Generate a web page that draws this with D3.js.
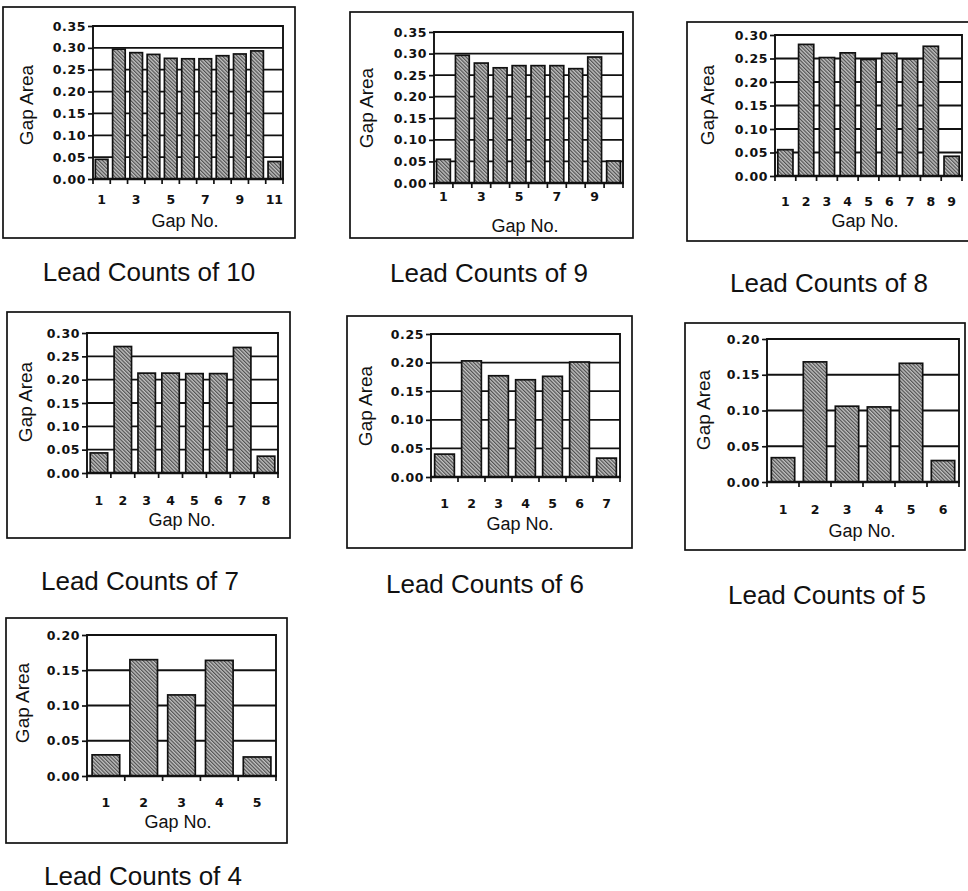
<!DOCTYPE html>
<html>
<head>
<meta charset="utf-8">
<script src="https://cdn.jsdelivr.net/npm/d3@7"></script>
<style>
  html, body { margin: 0; padding: 0; background: #fff; }
  svg { display: block; }
</style>
</head>
<body>
<svg id="chart" width="968" height="891"></svg>
<script>
// Gap area per gap for each lead count
const leadCounts = [10, 9, 8, 7, 6, 5, 4];
const gapArea10 = [0.045, 0.297, 0.289, 0.285, 0.276, 0.275, 0.275, 0.282, 0.286, 0.293, 0.040];
const gapArea9  = [0.055, 0.296, 0.278, 0.267, 0.272, 0.272, 0.272, 0.265, 0.292, 0.051];
const gapArea8  = [0.056, 0.280, 0.252, 0.262, 0.248, 0.261, 0.249, 0.276, 0.042];
const gapArea7  = [0.043, 0.271, 0.214, 0.214, 0.213, 0.213, 0.269, 0.036];
const gapArea6  = [0.040, 0.203, 0.177, 0.170, 0.176, 0.201, 0.033];
const gapArea5  = [0.034, 0.168, 0.106, 0.105, 0.166, 0.030];
const gapArea4  = [0.030, 0.165, 0.115, 0.164, 0.027];
const seriesValues = [gapArea10, gapArea9, gapArea8, gapArea7, gapArea6, gapArea5, gapArea4];

// y-axis maxima and tick labels
const yMaxima = [0.35, 0.35, 0.30, 0.30, 0.25, 0.20, 0.20];
const yTickValues = [0.00, 0.05, 0.10, 0.15, 0.20, 0.25, 0.30, 0.35];
// which gap numbers carry a label on the x axis
const xLabelEvery = [2, 2, 1, 1, 1, 1, 1];

const xAxisTitle = "Gap No.";
const yAxisTitle = "Gap Area";
const panelTitle = n => `Lead Counts of ${n}`;

// panel placement: frame box, plot rectangle, label anchors
const layout = [
  {box: [3, 7, 292, 231],   plot: [93, 26, 190, 153],  xLab: 199, xT: [185, 221], yT: [26, 105],  t: [149, 281]},
  {box: [350, 12, 283, 226], plot: [434, 32, 189, 151], xLab: 196, xT: [525, 226], yT: [366, 108], t: [489, 282]},
  {box: [687, 22, 295, 219], plot: [775, 35, 187, 141], xLab: 201, xT: [865, 221], yT: [707, 105], t: [829, 292]},
  {box: [7, 312, 283, 226],  plot: [87, 333, 191, 140], xLab: 500, xT: [182, 520], yT: [25, 402],  t: [140, 590]},
  {box: [347, 316, 285, 232], plot: [431, 334, 189, 143], xLab: 503, xT: [520, 524], yT: [365, 406], t: [485, 593]},
  {box: [685, 323, 280, 227], plot: [767, 339, 192, 143], xLab: 509, xT: [862, 531], yT: [703, 410], t: [827, 604]},
  {box: [6, 618, 281, 225],  plot: [87, 635, 189, 141], xLab: 802, xT: [178, 822], yT: [22, 703],  t: [143, 885]}
];

const svg = d3.select("#chart");

// diagonal hatch used for the bars
const defs = svg.append("defs");
const pat = defs.append("pattern")
  .attr("id", "hatch")
  .attr("patternUnits", "userSpaceOnUse")
  .attr("width", 2.6).attr("height", 2.6)
  .attr("patternTransform", "rotate(-45)");
pat.append("rect").attr("width", 2.6).attr("height", 2.6).attr("fill", "#c2c2c2");
pat.append("line").attr("x1", 0.6).attr("y1", 0).attr("x2", 0.6).attr("y2", 2.6)
  .attr("stroke", "#505050").attr("stroke-width", 1.2);

const tickFont = "'DejaVu Sans', Verdana, sans-serif";
const labelFont = "'Liberation Sans', Arial, Helvetica, sans-serif";
const ink = "#111";

seriesValues.forEach((values, p) => {
  const L = layout[p];
  const [px, py, pw, ph] = L.plot;
  const gaps = values.map((_, i) => i + 1);
  const yMax = yMaxima[p];
  const ticks = yTickValues.filter(v => v <= yMax + 1e-9);

  const g = svg.append("g");

  // outer frame
  g.append("rect")
    .attr("x", L.box[0]).attr("y", L.box[1])
    .attr("width", L.box[2]).attr("height", L.box[3])
    .attr("fill", "none").attr("stroke", ink).attr("stroke-width", 1.7);

  const x = d3.scaleBand().domain(gaps).range([px, px + pw])
    .paddingInner(0.27).paddingOuter(0.135);
  const y = d3.scaleLinear().domain([0, yMax]).range([py + ph, py]);

  // horizontal grid
  g.append("g").selectAll("line").data(ticks.filter(v => v > 0)).join("line")
    .attr("x1", px).attr("x2", px + pw)
    .attr("y1", d => y(d)).attr("y2", d => y(d))
    .attr("stroke", ink).attr("stroke-width", 1.8);

  // plot frame (left, top, right)
  g.append("path")
    .attr("d", `M${px},${py + ph}V${py}H${px + pw}V${py + ph}`)
    .attr("fill", "none").attr("stroke", ink).attr("stroke-width", 1.9);

  // bars
  g.append("g").selectAll("rect").data(values).join("rect")
    .attr("x", (d, i) => x(gaps[i]))
    .attr("y", d => y(d))
    .attr("width", x.bandwidth())
    .attr("height", d => y(0) - y(d))
    .attr("fill", "url(#hatch)")
    .attr("stroke", ink).attr("stroke-width", 1.7);

  // y axis
  const yAxis = d3.axisLeft(y).tickValues(ticks).tickFormat(d3.format(".2f"))
    .tickSize(5).tickPadding(2);
  const ya = g.append("g").attr("transform", `translate(${px},0)`).call(yAxis);
  ya.select(".domain").remove();
  ya.selectAll(".tick line").attr("stroke", ink).attr("stroke-width", 1.7);
  ya.selectAll(".tick text")
    .attr("font-family", tickFont).attr("font-size", 12.5).attr("font-weight", "bold")
    .attr("fill", ink).attr("letter-spacing", 0.6);

  // x axis line with ticks at band boundaries
  g.append("line")
    .attr("x1", px - 1).attr("x2", px + pw + 1)
    .attr("y1", py + ph).attr("y2", py + ph)
    .attr("stroke", ink).attr("stroke-width", 2.3);
  const step = x.step();
  const boundaryX = d => x(d) + x.bandwidth() + (step - x.bandwidth()) / 2;
  g.append("g").selectAll("line").data(gaps.slice(0, -1)).join("line")
    .attr("x1", boundaryX).attr("x2", boundaryX)
    .attr("y1", py + ph).attr("y2", py + ph + 5)
    .attr("stroke", ink).attr("stroke-width", 1.7);
  g.append("g").selectAll("line").data([px, px + pw]).join("line")
    .attr("x1", d => d).attr("x2", d => d)
    .attr("y1", py + ph).attr("y2", py + ph + 5)
    .attr("stroke", ink).attr("stroke-width", 1.7);

  // x tick labels
  g.append("g").selectAll("text")
    .data(gaps.filter(d => (d - 1) % xLabelEvery[p] === 0)).join("text")
    .attr("x", d => x(d) + x.bandwidth() / 2)
    .attr("y", L.xLab)
    .attr("text-anchor", "middle").attr("dominant-baseline", "central")
    .attr("font-family", tickFont).attr("font-size", 12.5).attr("font-weight", "bold")
    .attr("fill", ink)
    .text(d => d);

  // axis titles
  g.append("text")
    .attr("x", L.xT[0]).attr("y", L.xT[1])
    .attr("text-anchor", "middle").attr("dominant-baseline", "central")
    .attr("font-family", labelFont).attr("font-size", 18).attr("fill", ink)
    .text(xAxisTitle);
  g.append("text")
    .attr("transform", `translate(${L.yT[0]},${L.yT[1]}) rotate(-90)`)
    .attr("text-anchor", "middle").attr("dominant-baseline", "central")
    .attr("font-family", labelFont).attr("font-size", 19).attr("fill", ink)
    .text(yAxisTitle);

  // panel caption
  g.append("text")
    .attr("x", L.t[0]).attr("y", L.t[1])
    .attr("text-anchor", "middle")
    .attr("font-family", labelFont).attr("font-size", 26).attr("fill", ink)
    .text(panelTitle(leadCounts[p]));
});
</script>
</body>
</html>
